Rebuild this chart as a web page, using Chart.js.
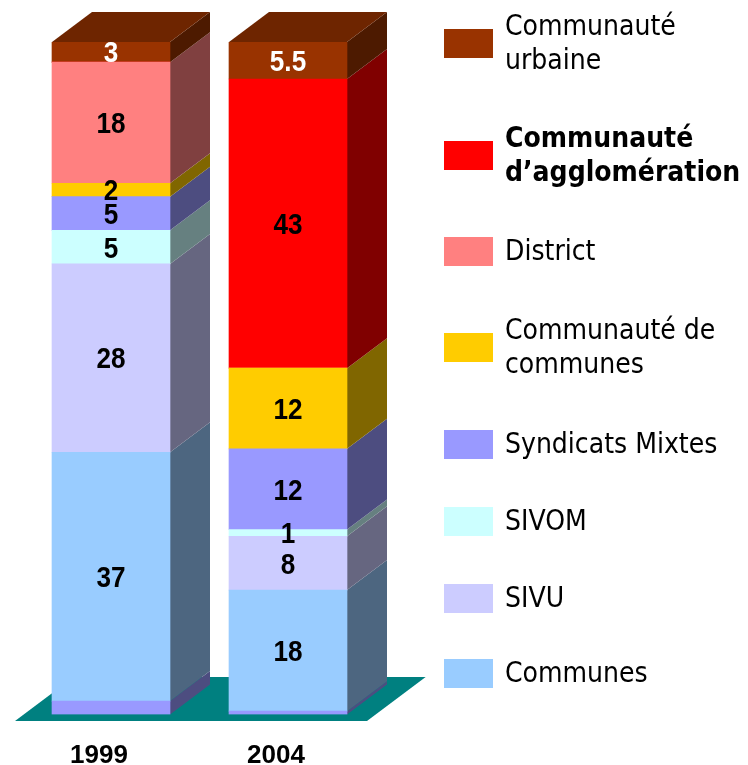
<!DOCTYPE html>
<html>
<head>
<meta charset="utf-8">
<script src="https://cdn.jsdelivr.net/npm/chart.js@4/dist/chart.umd.min.js"></script>
<style>
  html, body { margin: 0; padding: 0; background: #fff; }
  #wrap { position: relative; width: 748px; height: 765px; overflow: hidden; }
  #c { position: absolute; left: 0; top: 0; }
  .item { position: absolute; left: 444px; display: flex; align-items: center; }
  .sw { width: 49px; height: 29px; flex: none; }
  .tx { margin-left: 12px; font-family: "DejaVu Sans Condensed", "DejaVu Sans", sans-serif; font-stretch: condensed; font-size: 28px; line-height: 34px; color: #000; white-space: pre; }
  .tx.b { font-weight: bold; }
</style>
</head>
<body>
<div id="wrap">
  <canvas id="c" width="748" height="765"></canvas>
</div>
<script>
// ---- data ----
const categories = ['1999', '2004'];
const baseSeg     = [2, 0.5];     // unlabelled base sliver
const communes    = [37, 18];
const sivu        = [28, 8];
const sivom       = [5, 1];
const syndicats   = [5, 12];
const ccommunes   = [2, 12];
const district    = [18, 0];
const cagglo      = [0, 43];
const curbaine    = [3, 5.5];

const seriesNames = ['', 'Communes', 'SIVU', 'SIVOM', 'Syndicats Mixtes',
  'Communauté de communes', 'District', 'Communauté d’agglomération', 'Communauté urbaine'];
const seriesValues = [baseSeg, communes, sivu, sivom, syndicats, ccommunes, district, cagglo, curbaine];
const seriesColors = ['#9999FF', '#99CCFF', '#CCCCFF', '#CCFFFF', '#9999FF',
  '#FFCC00', '#FF8080', '#FF0000', '#993300'];
const labelColors  = [null, '#000', '#000', '#000', '#000', '#000', '#000', '#000', '#fff'];

// legend (top to bottom)
const legendLabels = ['Communauté\nurbaine', 'Communauté\nd’agglomération', 'District',
  'Communauté de\ncommunes', 'Syndicats Mixtes', 'SIVOM', 'SIVU', 'Communes'];
const legendSeries = [8, 7, 6, 5, 4, 3, 2, 1];
const legendBold   = [false, true, false, false, false, false, false, false];
const legendCenters = [43, 155, 251, 347, 444, 521, 598, 673];

// ---- helpers ----
function shade(hex, f) {
  const n = parseInt(hex.slice(1), 16);
  const r = Math.round(((n >> 16) & 255) * f);
  const g = Math.round(((n >> 8) & 255) * f);
  const b = Math.round((n & 255) * f);
  return 'rgb(' + r + ',' + g + ',' + b + ')';
}
const DX = 40, DY = -30;

const threeD = {
  id: 'threeD',
  beforeDatasetsDraw(chart) {
    const ctx = chart.ctx;
    const ca = chart.chartArea;
    const m0 = chart.getDatasetMeta(0).data;
    const firstLeft = m0[0].x - m0[0].width / 2;
    const lastRight = m0[m0.length - 1].x + m0[m0.length - 1].width / 2;
    // floor
    const yb = ca.bottom + 6.5, yt = ca.bottom - 37.5;
    const slope = (yb - yt) * 4 / 3;
    ctx.save();
    ctx.fillStyle = '#008080';
    ctx.beginPath();
    ctx.moveTo(firstLeft - 37, yb);
    ctx.lineTo(lastRight + 20, yb);
    ctx.lineTo(lastRight + 20 + slope, yt);
    ctx.lineTo(firstLeft - 37 + slope, yt);
    ctx.closePath();
    ctx.fill();
    // side & top faces
    for (let j = 0; j < categories.length; j++) {
      let topInfo = null;
      for (let i = 0; i < chart.data.datasets.length; i++) {
        const v = chart.data.datasets[i].data[j];
        if (!v) continue;
        const el = chart.getDatasetMeta(i).data[j];
        const left = el.x - el.width / 2, right = el.x + el.width / 2;
        const top = Math.min(el.y, el.base), bot = Math.max(el.y, el.base);
        ctx.fillStyle = shade(seriesColors[i], 0.5);
        ctx.beginPath();
        ctx.moveTo(right, bot);
        ctx.lineTo(right, top);
        ctx.lineTo(right + DX, top + DY);
        ctx.lineTo(right + DX, bot + DY);
        ctx.closePath();
        ctx.fill();
        topInfo = { left, right, top, i };
      }
      if (topInfo) {
        ctx.fillStyle = shade(seriesColors[topInfo.i], 0.72);
        ctx.beginPath();
        ctx.moveTo(topInfo.left, topInfo.top);
        ctx.lineTo(topInfo.left + DX, topInfo.top + DY);
        ctx.lineTo(topInfo.right + DX, topInfo.top + DY);
        ctx.lineTo(topInfo.right, topInfo.top);
        ctx.closePath();
        ctx.fill();
      }
    }
    ctx.restore();
  },
  afterDatasetsDraw(chart) {
    const ctx = chart.ctx;
    ctx.save();
    ctx.textAlign = 'center';
    ctx.textBaseline = 'alphabetic';
    ctx.font = 'bold 29px "Liberation Sans", Arial, sans-serif';
    for (let i = 1; i < chart.data.datasets.length; i++) {
      const meta = chart.getDatasetMeta(i);
      chart.data.datasets[i].data.forEach((v, j) => {
        if (!v) return;
        const el = meta.data[j];
        const cy = (el.y + el.base) / 2;
        ctx.save();
        ctx.translate(el.x, cy + 10.4);
        ctx.scale(0.9, 1);
        ctx.fillStyle = labelColors[i];
        ctx.fillText(String(v), 0, 0);
        ctx.restore();
      });
    }
    // category labels
    ctx.font = 'bold 26px "Liberation Sans", Arial, sans-serif';
    const xs = chart.scales.x;
    ctx.fillStyle = '#000';
    categories.forEach((c, j) => {
      ctx.fillText(c, xs.getPixelForValue(j) - 12, chart.chartArea.bottom + 48.5);
    });
    ctx.restore();
  }
};

const datasets = seriesValues.map((vals, i) => ({
  label: seriesNames[i],
  data: vals,
  backgroundColor: seriesColors[i],
  borderWidth: 0,
  barThickness: 118,
  stack: 's'
}));

new Chart(document.getElementById('c'), {
  type: 'bar',
  data: { labels: categories, datasets },
  options: {
    responsive: false,
    animation: false,
    layout: { padding: { left: 22.5, right: 371.5, top: 42, bottom: 50.5 } },
    plugins: { legend: { display: false }, tooltip: { enabled: false } },
    scales: {
      x: { display: false, stacked: true },
      y: { display: false, stacked: true, min: 0, max: 100 }
    }
  },
  plugins: [threeD]
});

// HTML legend built from the series arrays
const wrap = document.getElementById('wrap');
legendSeries.forEach((si, k) => {
  const item = document.createElement('div');
  item.className = 'item';
  const sw = document.createElement('div');
  sw.className = 'sw';
  sw.style.background = seriesColors[si];
  const tx = document.createElement('div');
  tx.className = 'tx' + (legendBold[k] ? ' b' : '');
  tx.textContent = legendLabels[k];
  item.appendChild(sw);
  item.appendChild(tx);
  wrap.appendChild(item);
  const h = item.getBoundingClientRect().height;
  item.style.top = (legendCenters[k] - h / 2) + 'px';
});
</script>
</body>
</html>
